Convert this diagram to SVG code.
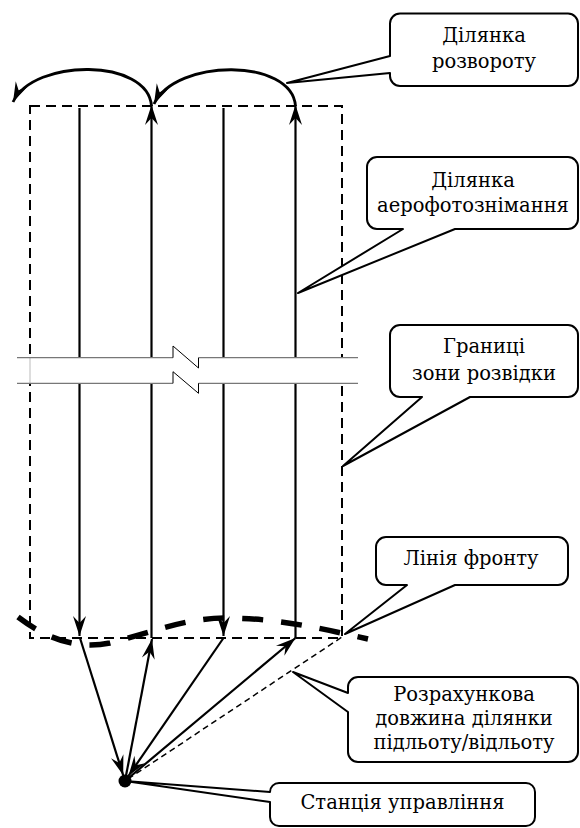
<svg xmlns="http://www.w3.org/2000/svg" width="580" height="828" viewBox="0 0 580 828">
<style>
.co{fill:#fff;stroke:#000;stroke-width:2;stroke-linejoin:round}
.t{font-family:'DejaVu Serif',serif;font-size:19.5px;fill:#000;text-anchor:middle}
.ln{fill:none;stroke:#000;stroke-width:2.2}
.arc{fill:none;stroke:#000;stroke-width:2.8}
.zone{fill:none;stroke:#000;stroke-width:2;stroke-dasharray:10 6}
.front{fill:none;stroke:#000;stroke-width:5.5;stroke-dasharray:21 18}
.calc{fill:none;stroke:#000;stroke-width:1.5;stroke-dasharray:6 4}
.brk{fill:none;stroke:#777;stroke-width:1.3}
.zz{fill:none;stroke:#000;stroke-width:1}
</style>
<defs>
<marker id="ah" viewBox="-22 -8 24 16" markerWidth="24" markerHeight="16" refX="0" refY="0" orient="auto" markerUnits="userSpaceOnUse" overflow="visible">
<path d="M0,0 L-20,-6.5 L-13,0 L-20,6.5 Z" fill="#000"/>
</marker>
</defs>
<rect width="580" height="828" fill="#fff"/>

<g id="zone-boundary">
<rect class="zone" x="30" y="106" width="312" height="532"/>
</g>

<g id="connectors">
<path class="arc" d="M151.5,106 C148,58 34,58 13,102" marker-end="url(#ah)"/>
<path class="arc" d="M295.5,106 C292,58 176,58 154,104" marker-end="url(#ah)"/>
<line class="ln" x1="79.5" y1="108" x2="79.5" y2="636" marker-end="url(#ah)"/>
<line class="ln" x1="151.5" y1="638" x2="151.5" y2="105" marker-end="url(#ah)"/>
<line class="ln" x1="223.5" y1="108" x2="223.5" y2="636" marker-end="url(#ah)"/>
<line class="ln" x1="295.5" y1="638" x2="295.5" y2="105" marker-end="url(#ah)"/>
<line class="ln" x1="80" y1="638" x2="123.2" y2="775.3" marker-end="url(#ah)"/>
<line class="ln" x1="125" y1="781" x2="152" y2="639" marker-end="url(#ah)"/>
<line class="ln" x1="223.5" y1="638" x2="128.4" y2="776" marker-end="url(#ah)"/>
<line class="ln" x1="125" y1="781" x2="295.5" y2="638" marker-end="url(#ah)"/>
<line class="calc" x1="128" y1="779" x2="342" y2="637"/>
</g>

<g id="break-band">
<path d="M17,357.7 H173 V346 L198.5,368 V357.7 H358 V383.3 H198.5 V393.3 L173,371.7 V383.3 H17 Z" fill="#fff"/>
<line x1="30" y1="358" x2="30" y2="383" stroke="#aaa" stroke-width="0.8"/>
<path class="brk" d="M17,357.7 H173 M198.5,357.7 H358"/>
<path class="zz" d="M173,357.7 V346 L198.5,368 V357.7"/>
<path class="brk" d="M17,383.3 H173 M198.5,383.3 H358"/>
<path class="zz" d="M173,383.3 V371.7 L198.5,393.3 V383.3"/>
</g>

<g id="front-line">
<path class="front" d="M18,617 C55,645 85,648 110,643 C150,633 185,618 225,618 C275,618 320,628 368,639"/>
</g>

<g id="station">
<circle cx="125" cy="781" r="6.5" fill="#000"/>
</g>

<g id="callout-turn">
<path class="co" d="M400,13.5 H568 A10,10 0 0 1 578,23.5 V76 A10,10 0 0 1 568,86 H400 A10,10 0 0 1 390,76 V73 L287,83 L390,56 V23.5 A10,10 0 0 1 400,13.5 Z"/>
<text class="t" x="484" y="42">Ділянка</text>
<text class="t" x="484" y="68">розвороту</text>
</g>

<g id="callout-photo">
<path class="co" d="M377,157 H568 A10,10 0 0 1 578,167 V219 A10,10 0 0 1 568,229 H455 L298,293 L403,229 H377 A10,10 0 0 1 367,219 V167 A10,10 0 0 1 377,157 Z"/>
<text class="t" x="473" y="187">Ділянка</text>
<text class="t" x="473" y="212">аерофотознімання</text>
</g>

<g id="callout-bounds">
<path class="co" d="M400,325 H568 A10,10 0 0 1 578,335 V387 A10,10 0 0 1 568,397 H470 L343,466 L422,397 H400 A10,10 0 0 1 390,387 V335 A10,10 0 0 1 400,325 Z"/>
<text class="t" x="484" y="353">Границі</text>
<text class="t" x="484" y="380">зони розвідки</text>
</g>

<g id="callout-front">
<path class="co" d="M386,537 H558 A10,10 0 0 1 568,547 V575 A10,10 0 0 1 558,585 H455 L345,634 L407,585 H386 A10,10 0 0 1 376,575 V547 A10,10 0 0 1 386,537 Z"/>
<text class="t" x="471" y="565">Лінія фронту</text>
</g>

<g id="callout-calc">
<path class="co" d="M358,677 H568 A10,10 0 0 1 578,687 V752 A10,10 0 0 1 568,762 H358 A10,10 0 0 1 348,752 V712 L293,672 L348,693 V687 A10,10 0 0 1 358,677 Z"/>
<text class="t" x="464" y="701">Розрахункова</text>
<text class="t" x="464" y="725">довжина ділянки</text>
<text class="t" x="464" y="749">підльоту/відльоту</text>
</g>

<g id="callout-station">
<path class="co" d="M279,783 H526 A9,9 0 0 1 535,792 V817 A9,9 0 0 1 526,826 H279 A9,9 0 0 1 270,817 V802 L125,781 L270,792 A9,9 0 0 1 279,783 Z"/>
<text class="t" x="402.5" y="809">Станція управління</text>
</g>
</svg>
